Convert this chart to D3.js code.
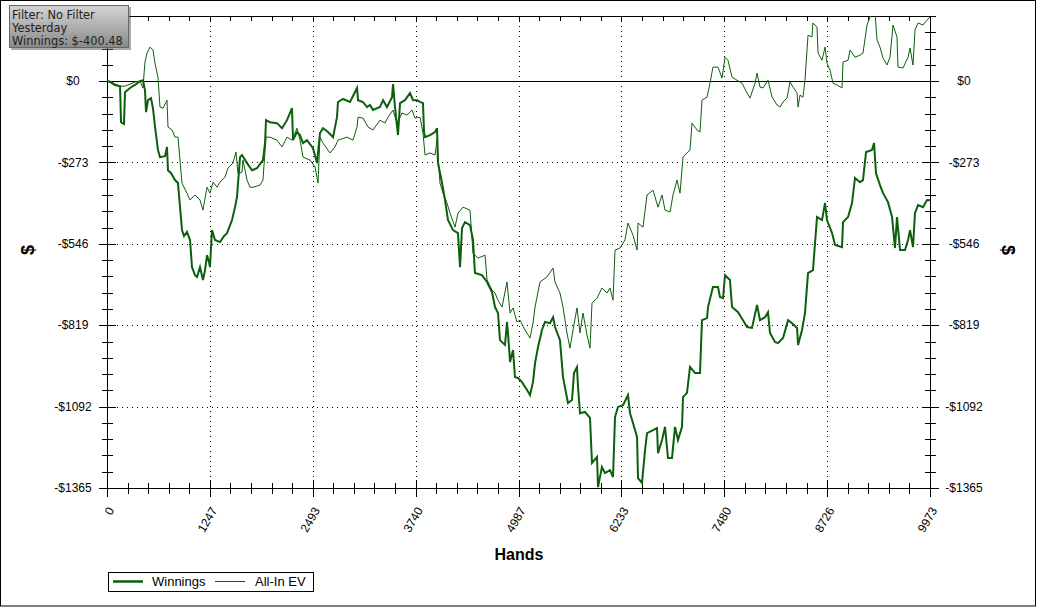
<!DOCTYPE html>
<html><head><meta charset="utf-8">
<script src="https://cdn.jsdelivr.net/npm/d3@7"></script>
<style>
html,body{margin:0;padding:0;background:#fff;}
svg{display:block;}
text{font-family:"Liberation Sans",Arial,sans-serif;}
</style></head>
<body><svg id="c" width="1038" height="607"></svg>
<script>
// ---- data ----
const winHands = [0,36,97,158,170,206,218,279,339,400,436,460,473,497,533,557,582,618,642,703,727,739,776,824,860,885,909,933,969,1006,1030,1066,1091,1127,1163,1188,1212,1236,1248,1272,1309,1369,1418,1454,1515,1551,1575,1612,1636,1697,1757,1818,1890,1915,1927,1975,2060,2121,2181,2242,2254,2302,2339,2375,2424,2496,2545,2581,2618,2678,2739,2787,2799,2860,2945,3030,3042,3102,3151,3187,3223,3308,3345,3393,3454,3466,3490,3526,3551,3611,3672,3708,3757,3793,3829,3842,3854,3914,3975,3999,4011,4060,4096,4132,4193,4253,4278,4302,4338,4399,4435,4459,4544,4605,4665,4702,4738,4762,4823,4847,4859,4884,4920,4944,4981,5029,5090,5126,5162,5187,5223,5271,5308,5368,5405,5429,5489,5526,5586,5635,5659,5695,5708,5732,5792,5853,5877,5938,5950,5998,6035,6095,6132,6156,6192,6253,6313,6338,6374,6423,6435,6483,6520,6544,6617,6665,6677,6726,6762,6798,6847,6883,6919,6968,6980,7028,7065,7125,7186,7210,7271,7283,7343,7404,7428,7465,7489,7549,7574,7647,7707,7756,7816,7877,7913,7974,8010,8034,8095,8131,8192,8253,8301,8362,8374,8422,8458,8495,8555,8580,8604,8665,8701,8725,8786,8822,8907,8919,8980,9028,9064,9125,9161,9198,9270,9295,9319,9367,9404,9464,9513,9549,9573,9610,9670,9707,9731,9767,9791,9828,9888,9937,9973];
const winValues = [0,-3,-13,-17,-138,-144,-37,-23,-13,0,3,-30,-104,-64,-57,-91,-154,-231,-255,-252,-221,-299,-309,-332,-342,-423,-500,-520,-506,-533,-624,-651,-657,-624,-667,-634,-584,-607,-624,-500,-533,-540,-520,-510,-466,-423,-389,-255,-248,-275,-299,-292,-265,-208,-131,-138,-141,-158,-131,-91,-198,-171,-181,-208,-198,-225,-275,-174,-158,-171,-188,-121,-70,-60,-70,-23,-64,-70,-87,-80,-97,-87,-64,-87,-54,-10,-87,-181,-74,-64,-40,-64,-64,-70,-74,-171,-188,-181,-171,-158,-275,-342,-399,-466,-500,-510,-624,-493,-473,-483,-533,-644,-651,-674,-708,-758,-778,-869,-885,-808,-845,-942,-902,-993,-996,-1010,-1036,-1053,-1010,-946,-892,-835,-808,-812,-792,-825,-869,-993,-1080,-1070,-979,-959,-1026,-1114,-1110,-1130,-1281,-1261,-1362,-1295,-1315,-1305,-1328,-1127,-1093,-1087,-1053,-1114,-1147,-1194,-1332,-1348,-1238,-1181,-1171,-1164,-1248,-1204,-1160,-1264,-1264,-1160,-1204,-1160,-1060,-1046,-959,-979,-979,-802,-795,-758,-691,-691,-724,-728,-651,-667,-758,-775,-802,-825,-828,-751,-802,-792,-775,-845,-875,-879,-862,-802,-812,-828,-885,-835,-778,-644,-634,-543,-456,-466,-409,-466,-510,-550,-557,-473,-456,-409,-325,-339,-332,-238,-231,-208,-309,-349,-376,-406,-456,-560,-456,-567,-567,-533,-500,-557,-443,-416,-423,-399,-400];

const evHands = [0,36,97,158,218,279,339,400,436,460,485,521,557,582,618,642,679,727,739,788,824,860,909,969,1006,1066,1127,1163,1212,1248,1285,1333,1369,1430,1466,1527,1563,1587,1636,1648,1697,1733,1769,1854,1890,1927,1975,2060,2121,2181,2242,2302,2339,2375,2460,2521,2557,2581,2618,2702,2763,2799,2908,2981,3030,3042,3102,3163,3223,3308,3369,3405,3466,3514,3575,3636,3696,3732,3793,3829,3854,3914,3975,3999,4035,4072,4120,4157,4217,4253,4314,4399,4435,4496,4581,4605,4665,4702,4738,4787,4847,4884,4920,4968,5005,5065,5126,5162,5187,5247,5332,5405,5429,5489,5526,5574,5610,5647,5695,5732,5768,5817,5853,5877,5938,5998,6059,6095,6132,6156,6217,6277,6313,6374,6423,6435,6495,6544,6617,6677,6726,6762,6823,6859,6907,6944,6980,7028,7065,7089,7150,7186,7210,7271,7307,7343,7404,7453,7489,7525,7574,7634,7695,7756,7792,7853,7877,7913,7949,8010,8059,8119,8156,8192,8240,8277,8313,8362,8374,8398,8434,8458,8495,8543,8555,8604,8616,8665,8701,8725,8761,8798,8846,8907,8919,8980,9004,9064,9125,9161,9210,9246,9307,9331,9367,9404,9452,9488,9525,9573,9585,9646,9707,9731,9767,9791,9828,9888,9937,9973];
const evValues = [0,0,-10,-17,-17,-10,-3,0,-23,64,94,114,104,60,13,-87,-91,-64,-154,-164,-188,-188,-342,-376,-399,-382,-399,-433,-356,-376,-339,-356,-339,-322,-292,-275,-238,-309,-305,-265,-332,-356,-356,-349,-332,-188,-188,-198,-221,-188,-198,-158,-198,-255,-265,-288,-342,-188,-208,-241,-221,-198,-188,-198,-154,-121,-124,-154,-164,-131,-141,-121,-97,-141,-107,-114,-97,-124,-121,-174,-248,-241,-248,-198,-342,-376,-409,-443,-490,-443,-423,-433,-577,-594,-584,-667,-701,-711,-735,-758,-674,-778,-761,-808,-802,-835,-862,-812,-758,-674,-657,-627,-674,-711,-758,-845,-896,-835,-761,-845,-778,-852,-896,-745,-728,-694,-711,-694,-735,-567,-560,-533,-476,-517,-567,-476,-490,-382,-366,-423,-382,-433,-439,-382,-332,-376,-255,-241,-231,-141,-164,-171,-64,-54,-7,47,47,10,80,70,13,3,-7,-40,-57,-7,27,-20,-23,3,-54,-80,-87,-70,-57,-3,-20,-40,-87,-47,-54,3,154,148,195,181,94,70,114,60,37,-7,-13,-23,64,70,104,80,87,94,188,215,230,138,114,77,54,80,188,148,47,44,80,111,54,171,195,188,205,215];

const xMajor = [0,1246.6,2493.3,3739.9,4986.5,6233.1,7479.8,8726.4,9973];
const xTickLabels = ["0","1247","2493","3740","4987","6233","7480","8726","9973"];
const yMajor = [0,-273,-546,-819,-1092,-1365];
const yTickLabels = ["$0","-$273","-$546","-$819","-$1092","-$1365"];
const seriesNames = ["Winnings","All-In EV"];
const infoLines = ["Filter: No Filter","Yesterday","Winnings: $-400.48"];
const xMax = 9973, yMin = -1365, yMax = 218.4;

// ---- drawing ----
const svg = d3.select("#c");
const L = 107, R = 930, T = 16, B = 488;
const x = d3.scaleLinear().domain([0, xMax]).range([L, R]);
const y = d3.scaleLinear().domain([yMin, yMax]).range([B, T]);
const green = "#0c5f0c";

svg.append("rect").attr("x",0.5).attr("y",0.5).attr("width",1035).attr("height",605.5)
  .attr("fill","#fff").attr("stroke","#000");

// grid
const g = svg.append("g").attr("shape-rendering","crispEdges");
xMajor.slice(1,-1).forEach(v=>{
  g.append("line").attr("x1",Math.round(x(v))+0.5).attr("x2",Math.round(x(v))+0.5)
   .attr("y1",T).attr("y2",B).attr("stroke","#000").attr("stroke-dasharray","1,4");
});
yMajor.slice(1,-1).forEach(v=>{
  g.append("line").attr("y1",Math.round(y(v))+0.5).attr("y2",Math.round(y(v))+0.5)
   .attr("x1",L).attr("x2",R).attr("stroke","#000").attr("stroke-dasharray","1,4");
});
// zero line
g.append("line").attr("x1",L).attr("x2",R).attr("y1",Math.round(y(0))+0.5).attr("y2",Math.round(y(0))+0.5).attr("stroke","#000");

// frame lines
const fr = svg.append("g").attr("stroke","#000").attr("shape-rendering","crispEdges");
fr.append("line").attr("x1",L).attr("x2",R+1).attr("y1",T+0.5).attr("y2",T+0.5);
fr.append("line").attr("x1",L).attr("x2",R+1).attr("y1",B+0.5).attr("y2",B+0.5);
fr.append("line").attr("x1",L+0.5).attr("x2",L+0.5).attr("y1",T).attr("y2",B+1);
fr.append("line").attr("x1",R+0.5).attr("x2",R+0.5).attr("y1",T).attr("y2",B+1);

// x ticks
const xStep = xMax/40;
d3.range(0,41).forEach(i=>{
  const v = i*xStep, px = Math.round(x(v))+0.5, major = i%5===0;
  const s = major?8:5;
  fr.append("line").attr("x1",px).attr("x2",px).attr("y1",B-s).attr("y2",B+s+1);
  fr.append("line").attr("x1",px).attr("x2",px).attr("y1",T).attr("y2",T+5);
});
// y ticks
const yStep = 54.6;
d3.range(-25,5).forEach(i=>{
  const v = i*yStep, py = Math.round(y(v))+0.5, major = i%5===0;
  if (y(v) < T) return;
  const s = major?8:5;
  fr.append("line").attr("y1",py).attr("y2",py).attr("x1",L-s).attr("x2",L+s+1);
  fr.append("line").attr("y1",py).attr("y2",py).attr("x1",R-s).attr("x2",R+s+1);
});

// tick labels
yMajor.forEach((v,i)=>{
  svg.append("text").attr("x",73).attr("y",y(v)).attr("dy","0.35em").attr("text-anchor","middle")
    .attr("font-size",12).text(yTickLabels[i]);
  svg.append("text").attr("x",964).attr("y",y(v)).attr("dy","0.35em").attr("text-anchor","middle")
    .attr("font-size",12).text(yTickLabels[i]);
});
xMajor.forEach((v,i)=>{
  svg.append("text").attr("transform",`translate(${x(v)+4},${B+20}) rotate(-60)`)
    .attr("text-anchor","end").attr("dy","0.35em").attr("font-size",12).text(xTickLabels[i]);
});

// axis titles
svg.append("text").attr("transform","translate(28,250) rotate(-90)").attr("text-anchor","middle")
  .attr("dy","0.35em").attr("font-size",18).attr("font-weight","bold").text("$");
svg.append("text").attr("transform","translate(1008,250) rotate(90)").attr("text-anchor","middle")
  .attr("dy","0.35em").attr("font-size",18).attr("font-weight","bold").text("$");
svg.append("text").attr("x",519).attr("y",560).attr("text-anchor","middle")
  .attr("font-size",16).attr("font-weight","bold").text("Hands");

// lines
svg.append("clipPath").attr("id","clip").append("rect").attr("x",L).attr("y",T).attr("width",R-L+1).attr("height",B-T);
const line = d3.line().x(d=>x(d[0])).y(d=>y(d[1]));
const lg = svg.append("g").attr("clip-path","url(#clip)");
lg.append("path").datum(evHands.map((h,i)=>[h,evValues[i]])).attr("d",line)
  .attr("fill","none").attr("stroke",green).attr("stroke-width",1);
lg.append("path").datum(winHands.map((h,i)=>[h,winValues[i]])).attr("d",line)
  .attr("fill","none").attr("stroke",green).attr("stroke-width",2).attr("stroke-linejoin","miter");

// legend
const leg = svg.append("g");
leg.append("rect").attr("x",108.5).attr("y",572.5).attr("width",205).attr("height",19).attr("fill","#fff").attr("stroke","#000");
leg.append("line").attr("x1",113).attr("x2",143).attr("y1",581.5).attr("y2",581.5).attr("stroke",green).attr("stroke-width",2.5);
leg.append("text").attr("x",152).attr("y",586).attr("font-size",13).text(seriesNames[0]);
leg.append("line").attr("x1",215).attr("x2",245).attr("y1",581.5).attr("y2",581.5).attr("stroke",green).attr("stroke-width",1);
leg.append("text").attr("x",255).attr("y",586).attr("font-size",13).text(seriesNames[1]);

// info box
const defs = svg.append("defs");
const grad = defs.append("linearGradient").attr("id","gb").attr("x1",0).attr("y1",0).attr("x2",0).attr("y2",1);
grad.append("stop").attr("offset","0%").attr("stop-color","#d4d4d4");
grad.append("stop").attr("offset","100%").attr("stop-color","#8a8a8a");
svg.append("rect").attr("x",11).attr("y",7).attr("width",120).attr("height",43).attr("fill","#555").attr("opacity",0.5);
svg.append("rect").attr("x",9.5).attr("y",5.5).attr("width",119).attr("height",42).attr("fill","url(#gb)").attr("stroke","#666");
infoLines.forEach((t,i)=>{
  svg.append("text").attr("x",12).attr("y",19+i*12.8).style("font-family","'DejaVu Sans', sans-serif").style("font-size","11.4px")
    .attr("fill","#222").text(t);
});
</script></body></html>
